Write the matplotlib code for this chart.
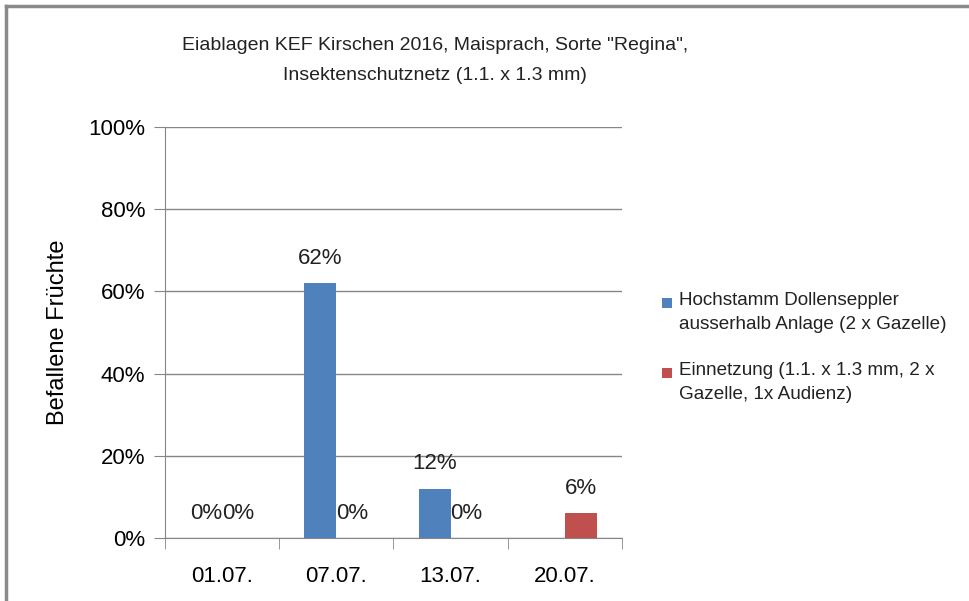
import numpy as np
import matplotlib
matplotlib.use("Agg")
from matplotlib import pyplot as plt
from matplotlib.lines import Line2D
from matplotlib.patches import Rectangle

plt.rcParams['font.family'] = ['Liberation Sans', 'DejaVu Sans']

# Daten
dates = ['01.07.', '07.07.', '13.07.', '20.07.']
hochstamm = [0.0, 0.62, 0.12, np.nan]
einnetzung = [0.0, 0.0, 0.0, 0.06]
series_names = ['Hochstamm Dollenseppler\nausserhalb Anlage (2 x Gazelle)',
                'Einnetzung (1.1. x 1.3 mm, 2 x\nGazelle, 1x Audienz)']
colors = ['#4F81BD', '#C0504D']
title = 'Eiablagen KEF Kirschen 2016, Maisprach, Sorte "Regina",\nInsektenschutznetz (1.1. x 1.3 mm)'

W, H = 969, 601
fig = plt.figure(figsize=(W / 100, H / 100), dpi=100)
ax = fig.add_axes([0.170, 0.1048, 0.472, 0.6839])

x = np.arange(len(dates))
w = 0.28
ax.bar(x - w / 2, hochstamm, w, color=colors[0])
ax.bar(x + w / 2, einnetzung, w, color=colors[1])

# Datenbeschriftungen
for vals, off in [(hochstamm, -w / 2), (einnetzung, w / 2)]:
    for i, v in enumerate(vals):
        if np.isnan(v):
            continue
        ax.text(i + off, v + 0.035, f'{v * 100:.0f}%', ha='center', va='bottom',
                fontsize=16, color='#222222')

ax.set_xlim(-0.5, 3.5)
ax.set_ylim(0, 1)
yt = np.arange(0, 1.01, 0.2)
ax.set_yticks(yt)
ax.set_yticklabels([f'{int(round(t * 100))}%' for t in yt], fontsize=16)
ax.set_xticks(x)
ax.set_xticklabels(dates, fontsize=16)
ax.set_xticks(np.arange(-0.5, 3.6, 1), minor=True)
ax.tick_params(axis='x', which='major', length=0, pad=20)
ax.tick_params(axis='x', which='minor', length=8, color='#868686', direction='out')
ax.tick_params(axis='y', length=8, color='#868686', direction='out', pad=6)
ax.yaxis.grid(True, color='#868686', linewidth=1)
ax.set_axisbelow(True)
for s in ['top', 'right']:
    ax.spines[s].set_visible(False)
ax.spines['left'].set_color('#868686')
ax.spines['bottom'].set_color('#868686')
ax.set_ylabel('Befallene Früchte', fontsize=17, labelpad=14)

fig.text(435 / W, 1 - 61 / H, title, ha='center', va='center', fontsize=14,
         linespacing=2.0, color='#222222')

# Legende
for k, (name, c) in enumerate(zip(series_names, colors)):
    yc = 303 + k * 70
    fig.add_artist(Rectangle((662 / W, 1 - (yc + 5) / H), 10 / W, 10 / H,
                             facecolor=c, edgecolor='none', transform=fig.transFigure))
    fig.text(679 / W, 1 - (yc - 11) / H, name, ha='left', va='top', fontsize=13.6,
             linespacing=1.55, color='#222222')

# Rahmen
fig.add_artist(Line2D([0.006, 1.0], [0.990, 0.990], color='#8a8a8a', linewidth=2.5,
                      transform=fig.transFigure))
fig.add_artist(Line2D([0.006, 0.006], [0.0, 0.990], color='#8a8a8a', linewidth=2.5,
                      transform=fig.transFigure))

fig.savefig('out.png', dpi=100)
